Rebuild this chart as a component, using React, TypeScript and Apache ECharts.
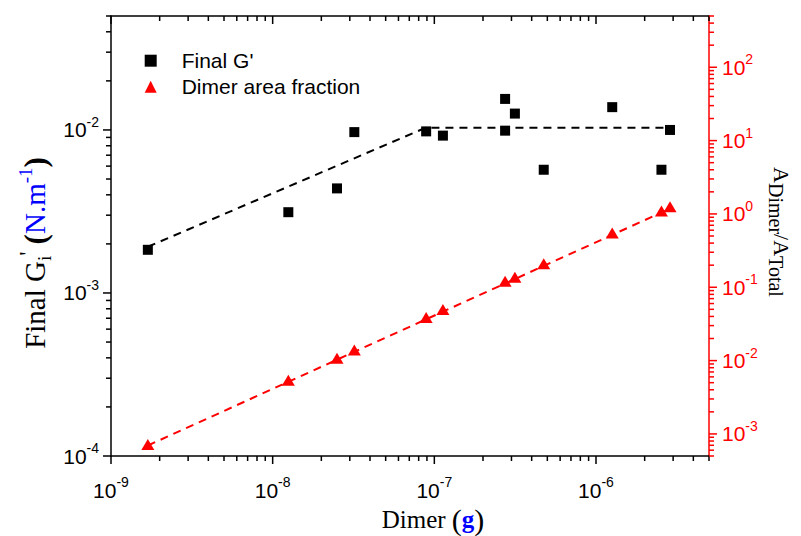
import React, { useEffect, useRef } from "react";
import * as echarts from "echarts";

// ---- data ----
const X_G = [1.69e-9, 1.25e-8, 2.5e-8, 3.2e-8, 8.9e-8, 1.13e-7, 2.74e-7, 2.74e-7, 3.15e-7, 4.75e-7, 1.26e-6, 2.54e-6, 2.87e-6];
const G_VALUES = [1.84e-3, 3.13e-3, 4.38e-3, 9.7e-3, 9.8e-3, 9.23e-3, 1.55e-2, 9.9e-3, 1.26e-2, 5.7e-3, 1.38e-2, 5.7e-3, 1.0e-2];

const X_A = [1.69e-9, 1.25e-8, 2.5e-8, 3.2e-8, 8.9e-8, 1.13e-7, 2.74e-7, 3.15e-7, 4.75e-7, 1.26e-6, 2.54e-6, 2.87e-6];
const A_VALUES = [7.2e-4, 5.4e-3, 1.08e-2, 1.39e-2, 3.88e-2, 4.96e-2, 0.121, 0.137, 0.21, 0.55, 1.1, 1.25];

const G_FIT_X = [1.69e-9, 8.8e-8, 2.87e-6];
const G_FIT_Y = [1.92e-3, 1.03e-2, 1.03e-2];
const A_FIT_X = [1.69e-9, 2.87e-6];
const A_FIT_Y = [6.95e-4, 1.18];

// axes ranges and decades (tick labels are 10^decade)
const X_RANGE = [1e-9, 5e-6];
const YL_RANGE = [1e-4, 5e-2];
const YR_RANGE = [5e-4, 500];
const X_DECADES = [-9, -8, -7, -6];
const YL_DECADES = [-4, -3, -2];
const YR_DECADES = [-4, -3, -2, -1, 0, 1, 2];
const MINOR_STEPS = [2, 3, 4, 5, 6, 7, 8, 9];

const SANS = "Liberation Sans, Arial, sans-serif";
const SERIF = "Liberation Serif, Times New Roman, serif";
const RED = "#ff0000";
const BLUE = "#0000ff";

function tickList(decades: number[], range: number[]) {
  const out: number[][] = [];
  decades.forEach((d) => {
    const base = Math.pow(10, d);
    if (base >= range[0] * 0.999 && base <= range[1] * 1.001) out.push([base, 8]);
    MINOR_STEPS.forEach((m) => {
      const v = m * base;
      if (v >= range[0] * 0.999 && v <= range[1] * 1.001) out.push([v, 5]);
    });
  });
  return out;
}

function labelFmt(v: number) {
  const e = Math.log10(v);
  if (Math.abs(e - Math.round(e)) > 1e-6) return "";
  return `{b|10}{s|${Math.round(e)}}`;
}

function labelRich(color: string) {
  return {
    b: { fontSize: 21, fontFamily: SANS, color, lineHeight: 30 },
    s: { fontSize: 14, fontFamily: SANS, color, lineHeight: 14, verticalAlign: "top" },
  };
}

export default function App() {
  const ref = useRef<HTMLDivElement>(null);
  useEffect(() => {
    if (!ref.current) return;
    const chart = echarts.init(ref.current, undefined, { renderer: "svg" });

    const xTicks = tickList(X_DECADES, X_RANGE).map((t) => [t[0], 1e-3, t[1]]);
    const ylTicks = tickList(YL_DECADES, YL_RANGE).map((t) => [1e-8, t[0], t[1]]);
    const yrTicks = tickList(YR_DECADES, YR_RANGE).map((t) => [1e-8, t[0], t[1]]);

    const option: any = {
      animation: false,
      backgroundColor: "#fff",
      textStyle: { fontFamily: SANS },
      grid: { left: 111, right: 92, top: 16, bottom: 80, outerBoundsMode: "none", containLabel: false },
      legend: {
        orient: "vertical",
        left: 144.7,
        top: 47.7,
        padding: 0,
        itemGap: 0,
        itemWidth: 12,
        itemHeight: 12,
        selectedMode: false,
        textStyle: { fontSize: 21, fontFamily: SANS, color: "#000", lineHeight: 26, padding: [0, 0, 0, 20] },
        data: [
          { name: "Final G'", icon: "rect", itemStyle: { color: "#000", opacity: 1 } },
          { name: "Dimer area fraction", icon: "triangle", itemStyle: { color: RED, opacity: 1 } },
        ],
      },
      xAxis: [
        {
          type: "log",
          min: X_RANGE[0],
          max: X_RANGE[1],
          position: "bottom",
          axisLine: { lineStyle: { color: "#000", width: 1.5 } },
          axisTick: { show: false },
          splitLine: { show: false },
          axisLabel: { formatter: labelFmt, rich: labelRich("#000"), margin: 19 },
        },
        {
          type: "log",
          min: X_RANGE[0],
          max: X_RANGE[1],
          position: "top",
          axisLine: { lineStyle: { color: "#000", width: 1.5 } },
          axisTick: { show: false },
          splitLine: { show: false },
          axisLabel: { show: false },
        },
      ],
      yAxis: [
        {
          type: "log",
          min: YL_RANGE[0],
          max: YL_RANGE[1],
          position: "left",
          axisLine: { lineStyle: { color: "#000", width: 1.5 } },
          axisTick: { show: false },
          splitLine: { show: false },
          axisLabel: { formatter: labelFmt, rich: labelRich("#000"), margin: 12 },
        },
        {
          type: "log",
          min: YR_RANGE[0],
          max: YR_RANGE[1],
          position: "right",
          axisLine: { lineStyle: { color: RED, width: 1.5 } },
          axisTick: { show: false },
          splitLine: { show: false },
          axisLabel: { formatter: labelFmt, rich: labelRich(RED), margin: 13 },
        },
      ],
      series: [
        {
          type: "custom",
          name: "xticks",
          xAxisIndex: 0,
          yAxisIndex: 0,
          clip: false,
          silent: true,
          encode: { x: 0, y: 1 },
          data: xTicks,
          renderItem: (params: any, api: any) => {
            const p = api.coord([api.value(0), api.value(1)]);
            const cs = params.coordSys;
            const len = api.value(2);
            const st = { stroke: "#000", lineWidth: 1.5 };
            return {
              type: "group",
              children: [
                { type: "line", shape: { x1: p[0], y1: cs.y + cs.height, x2: p[0], y2: cs.y + cs.height + len }, style: st },
                { type: "line", shape: { x1: p[0], y1: cs.y, x2: p[0], y2: cs.y + len }, style: st },
              ],
            };
          },
        },
        {
          type: "custom",
          name: "lticks",
          xAxisIndex: 0,
          yAxisIndex: 0,
          clip: false,
          silent: true,
          encode: { x: 0, y: 1 },
          data: ylTicks,
          renderItem: (params: any, api: any) => {
            const p = api.coord([api.value(0), api.value(1)]);
            const cs = params.coordSys;
            const len = api.value(2);
            return {
              type: "line",
              shape: { x1: cs.x - len, y1: p[1], x2: cs.x, y2: p[1] },
              style: { stroke: "#000", lineWidth: 1.5 },
            };
          },
        },
        {
          type: "custom",
          name: "rticks",
          xAxisIndex: 0,
          yAxisIndex: 1,
          clip: false,
          silent: true,
          encode: { x: 0, y: 1 },
          data: yrTicks,
          renderItem: (params: any, api: any) => {
            const p = api.coord([api.value(0), api.value(1)]);
            const cs = params.coordSys;
            const len = api.value(2);
            return {
              type: "line",
              shape: { x1: cs.x + cs.width, y1: p[1], x2: cs.x + cs.width + len, y2: p[1] },
              style: { stroke: RED, lineWidth: 1.5 },
            };
          },
        },
        {
          type: "line",
          name: "gfit",
          xAxisIndex: 0,
          yAxisIndex: 0,
          symbol: "none",
          silent: true,
          z: 1,
          data: G_FIT_X.map((x, i) => [x, G_FIT_Y[i]]),
          lineStyle: { color: "#000", width: 2, type: [8, 6] },
        },
        {
          type: "line",
          name: "afit",
          xAxisIndex: 0,
          yAxisIndex: 1,
          symbol: "none",
          silent: true,
          z: 1,
          data: A_FIT_X.map((x, i) => [x, A_FIT_Y[i]]),
          lineStyle: { color: RED, width: 2, type: [8, 6] },
        },
        {
          type: "scatter",
          name: "Final G'",
          xAxisIndex: 0,
          yAxisIndex: 0,
          symbol: "rect",
          symbolSize: 10,
          z: 3,
          itemStyle: { color: "#000", opacity: 1 },
          data: X_G.map((x, i) => [x, G_VALUES[i]]),
        },
        {
          type: "scatter",
          name: "Dimer area fraction",
          xAxisIndex: 0,
          yAxisIndex: 1,
          symbol: "triangle",
          symbolSize: [13, 11],
          z: 3,
          itemStyle: { color: RED, opacity: 1 },
          data: X_A.map((x, i) => [x, A_VALUES[i]]),
        },
      ],
      graphic: [
        {
          type: "text",
          x: 35,
          y: 253,
          rotation: Math.PI / 2,
          style: {
            x: 0,
            y: 0,
            text: "{a|Final G}{sub|i}{sup|'}{a| }{p|(}{bl|N.m}{bsup|-1}{p|)}",
            align: "center",
            verticalAlign: "middle",
            textAlign: "center",
            textVerticalAlign: "middle",
            rich: {
              a: { fontSize: 29, fontFamily: SERIF, fill: "#000", color: "#000", lineHeight: 38 },
              sub: { fontSize: 19, fontFamily: SERIF, fill: "#000", color: "#000", lineHeight: 17, verticalAlign: "bottom" },
              sup: { fontSize: 23, fontFamily: SERIF, fill: "#000", color: "#000", lineHeight: 17, verticalAlign: "top" },
              p: { fontSize: 31, fontFamily: SERIF, fontWeight: "bold", fill: "#000", color: "#000", lineHeight: 38 },
              bl: { fontSize: 29, fontFamily: SERIF, fill: BLUE, color: BLUE, lineHeight: 38 },
              bsup: { fontSize: 19, fontFamily: SERIF, fill: BLUE, color: BLUE, lineHeight: 17, verticalAlign: "top" },
            },
          },
        },
        {
          type: "text",
          x: 433,
          y: 519,
          style: {
            x: 0,
            y: 0,
            text: "{a|Dimer }{p|(}{g|g}{p|)}",
            align: "center",
            verticalAlign: "middle",
            textAlign: "center",
            textVerticalAlign: "middle",
            rich: {
              a: { fontSize: 25, fontFamily: SERIF, fill: "#000", color: "#000", lineHeight: 32 },
              p: { fontSize: 30, fontFamily: SERIF, fill: "#000", color: "#000", lineHeight: 32 },
              g: { fontSize: 25, fontFamily: SERIF, fontWeight: "bold", fill: BLUE, color: BLUE, lineHeight: 32 },
            },
          },
        },
        {
          type: "text",
          x: 781,
          y: 232,
          rotation: -Math.PI / 2,
          style: {
            x: 0,
            y: 0,
            text: "{a|A}{sub|Dimer}{a|/A}{sub|Total}",
            align: "center",
            verticalAlign: "middle",
            textAlign: "center",
            textVerticalAlign: "middle",
            rich: {
              a: { fontSize: 22, fontFamily: SERIF, fill: "#000", color: "#000", lineHeight: 30 },
              sub: { fontSize: 20, fontFamily: SERIF, fill: "#000", color: "#000", lineHeight: 18, verticalAlign: "bottom" },
            },
          },
        },
      ],
    };
    chart.setOption(option);
    return () => chart.dispose();
  }, []);
  return <div ref={ref} style={{ width: 801, height: 536, marginLeft: -8, marginTop: -8 }} />;
}
